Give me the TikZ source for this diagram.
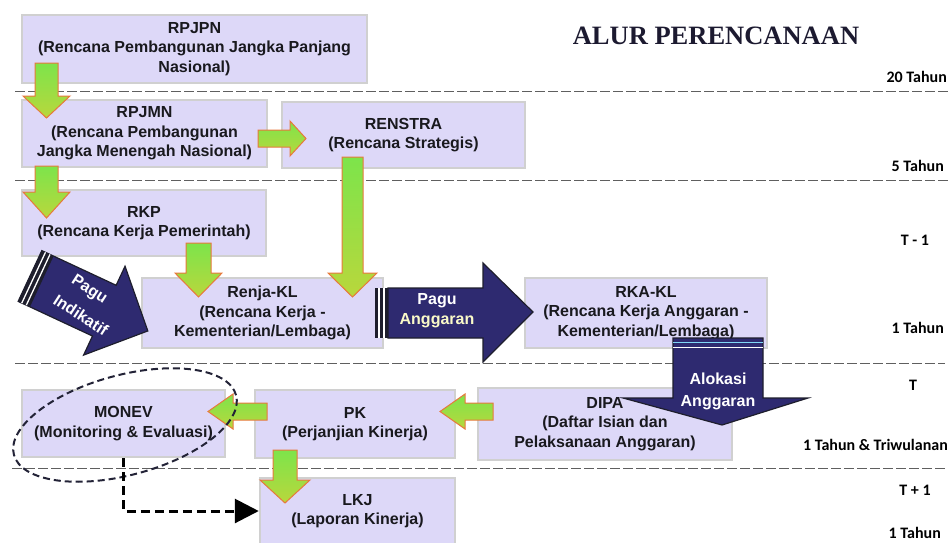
\documentclass[tikz,border=0pt]{standalone}
\usepackage{fontspec}
\setmainfont{Liberation Sans}
\newfontfamily\tahunfont{Carlito}
\newfontfamily\judulfont{Liberation Serif}
\usetikzlibrary{arrows.meta}
\definecolor{lav}{RGB}{221,216,248}
\definecolor{boxgray}{RGB}{208,208,208}
\definecolor{navy}{RGB}{46,42,112}
\definecolor{navyd}{RGB}{30,30,45}
\definecolor{gtop}{RGB}{125,228,75}
\definecolor{gbot}{RGB}{185,215,60}
\definecolor{gline}{RGB}{232,120,60}
\definecolor{txt}{RGB}{25,25,30}
\definecolor{sep}{RGB}{95,95,95}
\definecolor{lyel}{RGB}{250,250,200}
\definecolor{judulc}{RGB}{28,26,48}
\definecolor{ringc}{RGB}{35,35,55}
\newcommand\gdown[6]{\draw[garrow] (#1,#3) -- (#2,#3) -- (#2,#4) -- ({#2+#6},#4) -- ({(#1+#2)/2},#5) -- ({#1-#6},#4) -- (#1,#4) -- cycle;}
\newcommand\ghoriz[6]{\draw[garrow] (#1,#4) -- (#2,#4) -- (#2,{#4-#6}) -- (#3,{(#4+#5)/2}) -- (#2,{#5+#6}) -- (#2,#5) -- (#1,#5) -- cycle;}
\begin{document}
\begin{tikzpicture}[x=1pt,y=-1pt,
  box/.style={draw=boxgray, line width=2.5pt, fill=lav, align=center, text=txt, inner sep=0pt,
    font=\fontsize{16}{19.5}\selectfont\bfseries},
  garrow/.style={draw=gline, line width=1pt, top color=gtop, bottom color=gbot},
  navyarrow/.style={fill=navy, draw=navyd, line width=1.2pt},
  arrowtext/.style={text=white, align=center, inner sep=0pt, font=\fontsize{16}{20}\selectfont\bfseries},
  tahun/.style={text=black, inner sep=0pt, font=\tahunfont\bfseries\fontsize{16}{18}\selectfont},
  sepline/.style={draw=sep, line width=0.8pt, dash pattern=on 10pt off 3pt},
  ringline/.style={draw=ringc, line width=2pt, dash pattern=on 7pt off 4pt},
  monevlink/.style={draw=black, line width=3pt, dash pattern=on 9pt off 5pt, -{Triangle[length=24pt,width=24pt]}}
]
\useasboundingbox (0,0) rectangle (950,542);

% separator lines
\draw[sepline] (15,91) -- (948,91);
\draw[sepline] (15,180) -- (948,180);
\draw[sepline] (15,363) -- (945,363);
\draw[sepline] (12,468) -- (945,468);

% title
\node[text=judulc, font=\judulfont\bfseries\fontsize{26.5}{30}\selectfont] (judul) at (716,36) {ALUR PERENCANAAN};

% period labels
\node[tahun, anchor=east] (l20) at (947,77) {20 Tahun};
\node[tahun, anchor=east] (l5) at (944,166) {5 Tahun};
\node[tahun] (lt1) at (915,240) {T - 1};
\node[tahun, anchor=east] (l1a) at (944,328) {1 Tahun};
\node[tahun] (lt) at (913,385) {T};
\node[tahun, anchor=east] (l1b) at (948,445) {1 Tahun \& Triwulanan};
\node[tahun] (lt2) at (915,490) {T + 1};
\node[tahun, anchor=east] (l1c) at (941,533) {1 Tahun};

% boxes
\node[box, minimum width=345, minimum height=68] (rpjpn) at (194.5,49) {RPJPN\\(Rencana Pembangunan Jangka Panjang\\Nasional)};
\node[box, minimum width=245, minimum height=67] (rpjmn) at (144.5,133.5) {RPJMN\\(Rencana Pembangunan\\Jangka Menengah Nasional)};
\node[box, minimum width=243, minimum height=66] (renstra) at (403.5,135) {RENSTRA\\(Rencana Strategis)};
\node[box, minimum width=244, minimum height=66] (rkp) at (144,223) {RKP\\(Rencana Kerja Pemerintah)};
\node[box, minimum width=241, minimum height=70] (renja) at (262.5,313) {Renja-KL\\(Rencana Kerja -\\Kementerian/Lembaga)};
\node[box, minimum width=242, minimum height=70] (rkakl) at (646,313) {RKA-KL\\(Rencana Kerja Anggaran -\\Kementerian/Lembaga)};
\node[box, minimum width=254, minimum height=72] (dipa) at (605,424) {DIPA\\(Daftar Isian dan\\Pelaksanaan Anggaran)};
\node[box, minimum width=203, minimum height=67] (monev) at (123.5,423.5) {MONEV\\(Monitoring \& Evaluasi)};
\node[box, minimum width=200, minimum height=68] (pk) at (355,424) {PK\\(Perjanjian Kinerja)};
\node[box, minimum width=195, minimum height=66] (lkj) at (357.5,511) {LKJ\\(Laporan Kinerja)};

% green block arrows
\gdown{35}{58}{63}{96}{118}{12}
\gdown{35}{58}{166}{192}{218}{12}
\gdown{186}{211}{243}{273}{297}{11}
\gdown{342}{363}{157}{273}{297}{14}
\gdown{273}{297}{450}{480}{503}{13}
\ghoriz{258}{290}{306}{130}{147}{9}
\ghoriz{267}{233}{208}{403}{420}{9}
\ghoriz{493}{465}{440}{403}{420}{9}

% Pagu Indikatif arrow
\begin{scope}[shift={(30,276)}, rotate=-25]
  \filldraw[navyarrow] (0,-28) -- (82,-28) -- (82,-49) -- (130,0) -- (82,49) -- (82,28) -- (0,28) -- cycle;
  \fill[navyd] (0,-28) rectangle (13,28);
  \draw[white, line width=1.3pt] (4,-28) -- (4,28) (9,-28) -- (9,28);
\end{scope}
\node[arrowtext, rotate=-33] (pagui1) at (89,290) {Pagu};
\node[arrowtext, rotate=-33] (pagui2) at (81,315) {Indikatif};

% Pagu Anggaran arrow
\fill[navyd] (375,288) rectangle (388,338);
\draw[white, line width=1.3pt] (379,288) -- (379,338) (384,288) -- (384,338);
\filldraw[navyarrow] (388,288) -- (483,288) -- (483,263) -- (533,312) -- (483,362) -- (483,338) -- (388,338) -- cycle;
\node[arrowtext] (pagua) at (437,311) {Pagu\\\textcolor{lyel}{Anggaran}};

% Alokasi Anggaran arrow
\filldraw[navyarrow] (673,338) -- (763,338) -- (763,398) -- (808,398) -- (722,425) -- (623,398) -- (673,398) -- cycle;
\draw[cyan!50, line width=1.2pt] (673,342.5) -- (763,342.5);
\draw[white, line width=1.3pt] (673,347.5) -- (763,347.5);
\node[arrowtext, font=\fontsize{16}{22}\selectfont\bfseries] (alokasi) at (718,391) {Alokasi\\Anggaran};

% MONEV ring and link to LKJ
\draw[ringline] (125,425) ellipse [x radius=115pt, y radius=50pt, rotate=15];
\draw[monevlink] (monev.south) |- (lkj.west);
\end{tikzpicture}
\end{document}
